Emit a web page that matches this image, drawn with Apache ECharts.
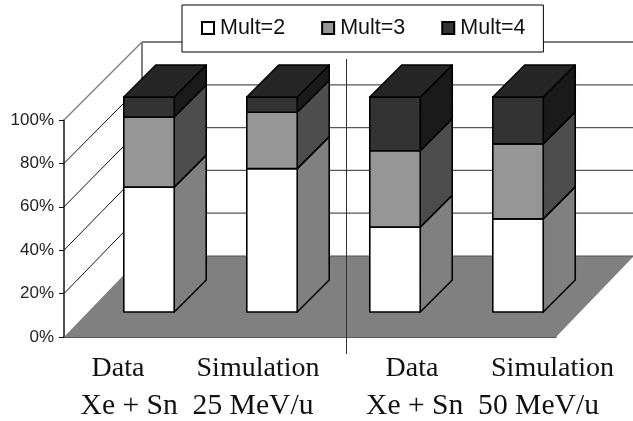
<!DOCTYPE html>
<html><head><meta charset="utf-8">
<style>html,body{margin:0;padding:0;background:#fff}#c{width:633px;height:421px}</style>
<script src="https://cdn.jsdelivr.net/npm/echarts@6/dist/echarts.min.js"></script>
</head><body><div id="c"></div>
<script>
var categories = ['Data 25', 'Simulation 25', 'Data 50', 'Simulation 50'];
var mult2 = [58.1, 66.7, 39.5, 43.3];
var mult3 = [32.6, 26.2, 35.5, 34.9];
var mult4 = [9.3, 7.1, 25.0, 21.8];
var yTicks = [0, 20, 40, 60, 80, 100];
var groupLabels = ['Data', 'Simulation', 'Data', 'Simulation'];
var energyLabels = ['Xe + Sn  25 MeV/u', 'Xe + Sn  50 MeV/u'];

var stacks = [mult2, mult3, mult4];
var names = ['Mult=2', 'Mult=3', 'Mult=4'];
var faces = [
  {front: '#ffffff', side: '#808080'},
  {front: '#969696', side: '#4d4d4d'},
  {front: '#333333', side: '#1a1a1a', top: '#262626'}
];
var BAR_DEPTH = 32, WALL_DX = 78, WALL_DY0 = 81, WALL_DY100 = 78;

function segmentData(k) {
  return stacks[k].map(function (v, i) {
    var base = 0;
    for (var j = 0; j < k; j++) base += stacks[j][i];
    return [i, base, base + v];
  });
}
function renderSegment(k) {
  return function (params, api) {
    var c = api.value(0), w = api.size([1, 0])[0] * 0.41;
    var p0 = api.coord([c, api.value(1)]), p1 = api.coord([c, api.value(2)]);
    var l = p0[0] - w / 2, r = p0[0] + w / 2, b = p0[1], t = p1[1], d = BAR_DEPTH;
    var s = {stroke: '#000', lineWidth: 1.6, lineJoin: 'round'};
    var kids = [
      {type: 'polygon', shape: {points: [[r, b], [r + d, b - d], [r + d, t - d], [r, t]]},
       style: Object.assign({fill: faces[k].side}, s)},
      {type: 'rect', shape: {x: l, y: t, width: r - l, height: b - t},
       style: Object.assign({fill: faces[k].front}, s)}
    ];
    if (faces[k].top) kids.push({type: 'polygon',
      shape: {points: [[l, t], [r, t], [r + d, t - d], [l + d, t - d]]},
      style: Object.assign({fill: faces[k].top}, s)});
    return {type: 'group', children: kids};
  };
}
function backY(y, y0, h) {
  var f = (y0 - y) / h;
  return y - (WALL_DY0 + (WALL_DY100 - WALL_DY0) * f);
}
var series = [
  {type: 'custom', xAxisIndex: 0, yAxisIndex: 0, silent: true, clip: false, z: 1, data: [0],
   renderItem: function (p, api) {
     var g = p.coordSys, y0 = g.y + g.height, x = g.x, xr = g.x + g.width, by = y0 - WALL_DY0;
     return {type: 'polygon', shape: {points: [[x, y0], [xr, y0], [xr + WALL_DX, by], [x + WALL_DX, by]]},
             style: {fill: '#808080', stroke: 'none'}};
   }},
  {type: 'custom', xAxisIndex: 0, yAxisIndex: 0, silent: true, clip: false, z: 1,
   data: yTicks.map(function (v) { return [0, v]; }),
   renderItem: function (p, api) {
     var g = p.coordSys, y0 = g.y + g.height, v = api.value(1);
     var y = api.coord([0, v])[1], by = backY(y, y0, g.height), x = g.x, bx = g.x + WALL_DX;
     var top = v === 100;
     var kids = [{type: 'line', shape: {x1: bx, y1: by, x2: 633, y2: by},
       style: {stroke: top ? '#808080' : '#555555', lineWidth: top ? 2 : 1.2}}];
     if (v > 0) kids.push({type: 'line', shape: {x1: x, y1: y, x2: bx, y2: by},
       style: {stroke: top ? '#808080' : '#111111', lineWidth: top ? 1.5 : 1}});
     if (top) kids.push({type: 'line', shape: {x1: bx, y1: by, x2: bx, y2: y0 - WALL_DY0},
       style: {stroke: '#808080', lineWidth: 2}});
     return {type: 'group', children: kids};
   }}
];
names.forEach(function (n, k) {
  series.push({type: 'custom', name: n, xAxisIndex: 1, yAxisIndex: 1, clip: false, silent: true,
    z: 3 + k, data: segmentData(k), renderItem: renderSegment(k),
    itemStyle: {color: faces[k].front, borderColor: '#000', borderWidth: 1}});
});

var serif = '"Liberation Serif", serif';
var graphics = [
  {type: 'line', z: 20, shape: {x1: 346.5, y1: 59, x2: 346.5, y2: 354}, style: {stroke: '#333', lineWidth: 1}}
];
[118, 258, 412, 552.5].forEach(function (x, i) {
  graphics.push({type: 'text', z: 20, x: x, y: 369, style: {text: groupLabels[i], fill: '#111',
    font: '28px ' + serif, textAlign: 'center', textVerticalAlign: 'middle'}});
});
[197, 482.5].forEach(function (x, i) {
  graphics.push({type: 'text', z: 20, x: x, y: 406, style: {text: energyLabels[i], fill: '#111',
    font: '29.6px ' + serif, textAlign: 'center', textVerticalAlign: 'middle'}});
});

var chart = echarts.init(document.getElementById('c'), null, {renderer: 'canvas'});
chart.setOption({
  animation: false,
  backgroundColor: '#fff',
  legend: {
    data: names, left: 182, top: 5, orient: 'horizontal', icon: 'rect',
    itemWidth: 12, itemHeight: 12, itemGap: 36, selectedMode: false,
    padding: [12, 18, 13, 19], backgroundColor: '#fff', borderColor: '#000', borderWidth: 1,
    textStyle: {fontFamily: '"Liberation Sans", Arial', fontSize: 21.5, color: '#111', padding: [0, 0, 4, 1]}
  },
  grid: [
    {left: 64, width: 492, top: 120, height: 217},
    {left: 87.5, width: 492, top: 97, height: 215}
  ],
  xAxis: [
    {gridIndex: 0, type: 'category', data: categories,
     axisLine: {show: true, lineStyle: {color: '#222', width: 1.5}}, axisTick: {show: false}, axisLabel: {show: false}},
    {gridIndex: 1, type: 'category', data: categories, show: false}
  ],
  yAxis: [
    {gridIndex: 0, type: 'value', min: 0, max: 100, interval: 20,
     axisLine: {show: true, lineStyle: {color: '#111', width: 1.5}},
     axisTick: {show: true, length: 5, lineStyle: {color: '#111', width: 1}},
     splitLine: {show: false},
     axisLabel: {formatter: '{value}%', margin: 10, fontFamily: '"Liberation Sans", Arial', fontSize: 17, color: '#222'}},
    {gridIndex: 1, type: 'value', min: 0, max: 100, interval: 20, show: false}
  ],
  series: series,
  graphic: graphics
});
</script></body></html>
